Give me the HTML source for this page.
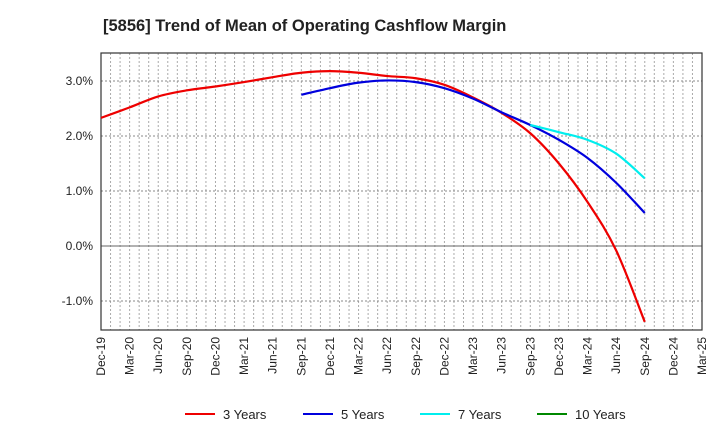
<!DOCTYPE html>
<html><head><meta charset="utf-8"><style>
body{margin:0;background:#fff;font-family:"Liberation Sans",Arial,sans-serif}
svg text{font-family:"Liberation Sans",Arial,sans-serif}
</style></head><body>
<svg id="c" width="720" height="440" xmlns="http://www.w3.org/2000/svg">
<text x="103" y="31" font-size="16.5" font-weight="bold" fill="#222">[5856]  Trend of Mean of Operating Cashflow Margin</text>
<g id="grid"></g><g id="axes"></g><g id="series"></g><g id="legend"></g>
</svg>
<script>
const xLabels=["Dec-19","Mar-20","Jun-20","Sep-20","Dec-20","Mar-21","Jun-21","Sep-21","Dec-21","Mar-22","Jun-22","Sep-22","Dec-22","Mar-23","Jun-23","Sep-23","Dec-23","Mar-24","Jun-24","Sep-24","Dec-24","Mar-25"];
const yTicks=[3,2,1,0,-1];
const y3=[2.33,2.52,2.72,2.83,2.90,2.98,3.07,3.15,3.18,3.15,3.09,3.05,2.93,2.70,2.42,2.05,1.50,0.80,-0.08,-1.38];
const y5=[null,null,null,null,null,null,null,2.75,2.87,2.97,3.01,2.98,2.87,2.68,2.43,2.20,1.93,1.60,1.15,0.60];
const y7=[null,null,null,null,null,null,null,null,null,null,null,null,null,null,null,2.20,2.07,1.93,1.68,1.23];
const y10=[];
const seriesNames=["3 Years","5 Years","7 Years","10 Years"];
const colors=["#e00","#00d","#0ee","#080"];
const L=101,R=702,T=53,B=330;
const xs=q=>L+q*3*(R-L)/63;
const ys=v=>246-v*55;
const NS="http://www.w3.org/2000/svg";
function mk(t,a,p){const e=document.createElementNS(NS,t);for(const k in a)e.setAttribute(k,a[k]);p.appendChild(e);return e;}
const g=document.getElementById('grid'),ax=document.getElementById('axes'),sg=document.getElementById('series'),lg=document.getElementById('legend');
for(let m=1;m<63;m++){const x=L+m*(R-L)/63;
const l=mk('line',{x1:x,x2:x,y1:T,y2:B,stroke:'#aaa','stroke-dasharray':'2,2','stroke-width':1},g);

}
yTicks.forEach(v=>{const y=ys(v);
const l=mk('line',{x1:L,x2:R,y1:y,y2:y,stroke:v===0?'#666':'#888','stroke-dasharray':v===0?'':'2,2'},g);


const t=mk('text',{x:L-8,y:y+4,'text-anchor':'end','font-size':12,fill:'#222'},ax);
t.textContent=v.toFixed(1)+'%';

});
const fr=mk('rect',{x:L,y:T,width:R-L,height:B-T,fill:'none',stroke:'#333','stroke-width':1.2},ax);


xLabels.forEach((s,i)=>{const x=xs(i);
const t=mk('text',{x:0,y:0,transform:`translate(${x+4},${B+7}) rotate(-90)`,'text-anchor':'end','font-size':12,fill:'#222'},ax);
t.textContent=s;

});
function path(arr){const p=[];arr.forEach((v,i)=>{if(v!=null)p.push([xs(i),ys(v)]);});
if(p.length<2)return '';let d=`M${p[0][0]},${p[0][1]}`;
for(let i=0;i<p.length-1;i++){const p0=p[i-1]||p[i],p1=p[i],p2=p[i+1],p3=p[i+2]||p2;
d+=` C${p1[0]+(p2[0]-p0[0])/6},${p1[1]+(p2[1]-p0[1])/6} ${p2[0]-(p3[0]-p1[0])/6},${p2[1]-(p3[1]-p1[1])/6} ${p2[0]},${p2[1]}`;}
return d;}
[y3,y5,y7,y10].forEach((a,k)=>{const d=path(a);if(!d)return;
const e=mk('path',{d:d,fill:'none',stroke:colors[k],'stroke-width':2.2},sg);

});
const lx=[185,303,420,537];
seriesNames.forEach((n,k)=>{
const l=mk('line',{x1:lx[k],x2:lx[k]+30,y1:414,y2:414,stroke:colors[k],'stroke-width':2},lg);


const t=mk('text',{x:lx[k]+38,y:419,'font-size':13,fill:'#222'},lg);
t.textContent=n;

});
</script>
</body></html>
